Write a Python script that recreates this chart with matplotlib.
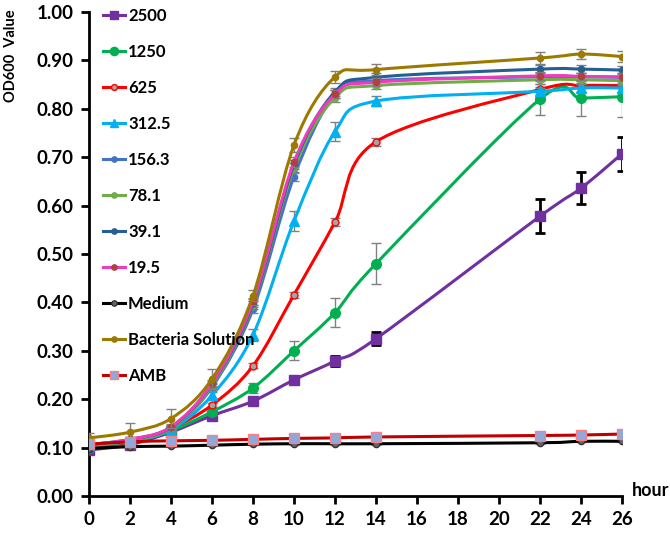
import matplotlib
matplotlib.use("Agg")
import matplotlib.pyplot as plt
import numpy as np
from matplotlib.path import Path
from matplotlib.patches import PathPatch
from matplotlib.lines import Line2D

plt.rcParams['font.family'] = ['Lato', 'DejaVu Sans']

# sampling times (hours)
hours = [0, 2, 4, 6, 8, 10, 12, 14, 22, 24, 26]

# OD600 readings per concentration
c2500 = [0.095, 0.106, 0.132, 0.166, 0.196, 0.240, 0.279, 0.325, 0.578, 0.636, 0.707]
c1250 = [0.100, 0.110, 0.135, 0.174, 0.223, 0.300, 0.379, 0.480, 0.820, 0.822, 0.825]
c625 = [0.104, 0.112, 0.140, 0.188, 0.269, 0.416, 0.566, 0.732, 0.840, 0.848, 0.848]
c312 = [0.105, 0.113, 0.137, 0.208, 0.333, 0.568, 0.753, 0.816, 0.836, 0.843, 0.843]
c156 = [0.105, 0.115, 0.140, 0.225, 0.386, 0.660, 0.830, 0.858, 0.866, 0.866, 0.865]
c78 = [0.104, 0.114, 0.140, 0.228, 0.395, 0.678, 0.823, 0.848, 0.860, 0.860, 0.858]
c39 = [0.106, 0.117, 0.142, 0.232, 0.398, 0.685, 0.835, 0.865, 0.882, 0.882, 0.880]
c19 = [0.106, 0.117, 0.143, 0.233, 0.402, 0.690, 0.830, 0.855, 0.868, 0.867, 0.866]
medium = [0.098, 0.102, 0.103, 0.105, 0.107, 0.108, 0.108, 0.108, 0.110, 0.113, 0.113]
bacteria = [0.120, 0.132, 0.160, 0.242, 0.414, 0.725, 0.866, 0.881, 0.905, 0.913, 0.908]
amb = [0.107, 0.112, 0.114, 0.115, 0.117, 0.119, 0.120, 0.122, 0.125, 0.126, 0.128]

# standard deviations
e2500 = [0.004, 0.003, 0.003, 0.004, 0.004, 0.005, 0.010, 0.014, 0.035, 0.033, 0.035]
e1250 = [0.004, 0.004, 0.005, 0.006, 0.010, 0.020, 0.030, 0.043, 0.032, 0.036, 0.042]
e625 = [0.004, 0.004, 0.005, 0.005, 0.005, 0.006, 0.008, 0.008, 0.006, 0.006, 0.006]
e312 = [0.004, 0.004, 0.005, 0.006, 0.012, 0.020, 0.020, 0.010, 0.008, 0.008, 0.008]
e156 = [0.003, 0.004, 0.005, 0.006, 0.008, 0.010, 0.008, 0.008, 0.008, 0.008, 0.008]
e78 = [0.003, 0.004, 0.005, 0.006, 0.008, 0.010, 0.008, 0.008, 0.008, 0.008, 0.008]
e39 = [0.003, 0.004, 0.005, 0.006, 0.008, 0.010, 0.008, 0.008, 0.008, 0.008, 0.008]
e19 = [0.003, 0.004, 0.005, 0.006, 0.008, 0.010, 0.008, 0.008, 0.008, 0.008, 0.008]
e_medium = [0.002, 0.002, 0.002, 0.002, 0.002, 0.002, 0.002, 0.002, 0.002, 0.002, 0.002]
e_bacteria = [0.010, 0.018, 0.020, 0.020, 0.012, 0.015, 0.013, 0.012, 0.012, 0.010, 0.012]
e_amb = [0.003, 0.003, 0.003, 0.003, 0.003, 0.003, 0.003, 0.003, 0.003, 0.003, 0.003]

labels = ['2500', '1250', '625', '312.5', '156.3', '78.1', '39.1', '19.5',
          'Medium', 'Bacteria Solution', 'AMB']

# (values, errors, line colour, marker, marker size, face, edge, errbar colour)
series = [
    (c2500, e2500, '#7030A0', 's', 6.5, '#7030A0', '#7030A0', 'black'),
    (c1250, e1250, '#00B050', 'o', 7, '#00B050', '#00B050', '#808080'),
    (c625, e625, '#FF0000', 'o', 5, '#A5A5A5', '#FF0000', '#808080'),
    (c312, e312, '#00B0F0', '^', 7.5, '#00B0F0', '#00B0F0', '#808080'),
    (c156, e156, '#4472C4', 'o', 4.5, '#4472C4', '#4472C4', '#808080'),
    (c78, e78, '#70AD47', 'o', 4.5, '#70AD47', '#70AD47', '#808080'),
    (c39, e39, '#255E91', 'o', 4.5, '#255E91', '#255E91', '#808080'),
    (c19, e19, '#EE3CBE', 'o', 4.5, '#B0413E', '#B0413E', '#808080'),
    (medium, e_medium, '#000000', 'o', 4.5, '#666666', '#333333', '#808080'),
    (bacteria, e_bacteria, '#9C7A00', 'o', 4.5, '#9C7A00', '#9C7A00', '#808080'),
    (amb, e_amb, '#C00000', 's', 7, '#8EA9DB', '#FF7C80', '#808080'),
]


def smooth_path(x, y):
    # Excel-like smoothed line: cubic bezier through points
    x = np.asarray(x, float)
    y = np.asarray(y, float)
    n = len(x)
    verts = [(x[0], y[0])]
    codes = [Path.MOVETO]
    for i in range(n - 1):
        p0 = i - 1 if i > 0 else i
        p3 = i + 2 if i + 2 < n else i + 1
        c1 = (x[i] + (x[i + 1] - x[p0]) / 6, y[i] + (y[i + 1] - y[p0]) / 6)
        c2 = (x[i + 1] - (x[p3] - x[i]) / 6, y[i + 1] - (y[p3] - y[i]) / 6)
        verts += [c1, c2, (x[i + 1], y[i + 1])]
        codes += [Path.CURVE4] * 3
    return Path(verts, codes)


fig = plt.figure(figsize=(6.7, 5.36), dpi=100)
ax = fig.add_axes([89 / 670, 1 - 496 / 536, (622 - 89) / 670, (496 - 12) / 536])

handles = []
for k, (vals, errs, col, mk, ms, fc, ec, ecol) in enumerate(series):
    z = 3 + k * 0.1
    elw = 2 if ecol == 'black' else 1
    ax.errorbar(hours, vals, yerr=errs, fmt='none', ecolor=ecol, elinewidth=elw,
                capsize=3.5, capthick=elw, zorder=z)
    ax.add_patch(PathPatch(smooth_path(hours, vals), facecolor='none', edgecolor=col,
                           lw=2.2, zorder=z + 0.01, capstyle='round', joinstyle='round'))
    ax.plot(hours, vals, linestyle='none', marker=mk, ms=ms, mfc=fc, mec=ec,
            mew=1, zorder=z + 0.02)
    handles.append(Line2D([], [], color=col, lw=2.2, marker=mk, ms=ms * 0.85,
                          mfc=fc, mec=ec, mew=1))

ax.set_xlim(0, 26)
ax.set_ylim(0, 1.0)
ax.set_xticks(range(0, 27, 2))
ax.set_yticks(np.arange(0, 1.01, 0.1))
ax.set_yticklabels([f'{v:.2f}' for v in np.arange(0, 1.01, 0.1)])

for side in ['top', 'right']:
    ax.spines[side].set_visible(False)
for side in ['left', 'bottom']:
    ax.spines[side].set_linewidth(2)
ax.tick_params(direction='out', length=6, width=2, labelsize=13.5, pad=5)
for lab in ax.get_xticklabels() + ax.get_yticklabels():
    lab.set_fontweight('bold')
ax.set_clip_on(False)

leg = ax.legend(handles, labels, loc='upper left',
                bbox_to_anchor=(103 / 670, 1 - 8 / 536), bbox_transform=fig.transFigure,
                frameon=False, borderpad=0, borderaxespad=0, handlelength=1.3,
                handletextpad=0.2, labelspacing=1.2,
                prop={'weight': 'bold', 'size': 12})

fig.text(11 / 670, 1 - 56 / 536, 'OD600  Value', rotation=90, ha='center', va='center',
         fontsize=10.5, fontweight='bold')
fig.text(632 / 670, 1 - 490 / 536, 'hour', ha='left', va='center',
         fontsize=13, fontweight='bold')

fig.savefig('out.png', dpi=100)
